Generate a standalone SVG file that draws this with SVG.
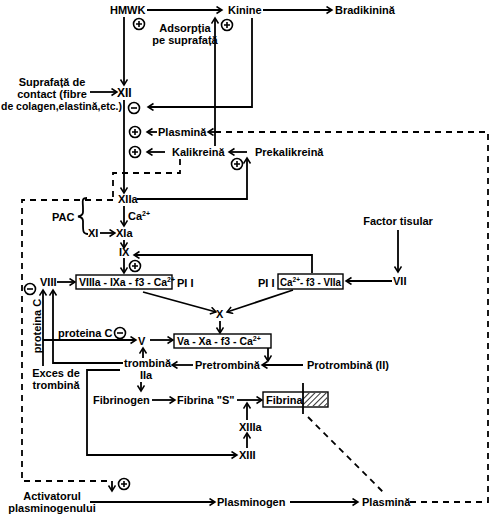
<svg xmlns="http://www.w3.org/2000/svg" width="495" height="522" viewBox="0 0 495 522">
<style>
.t{font-family:"Liberation Sans",Arial,sans-serif;font-size:11px;font-weight:bold;fill:#000}
.bx{font-size:10.5px}
.sup{font-size:7px}
.ln{fill:none;stroke:#000;stroke-width:1.8}
.ar{marker-end:url(#ah)}
.ds{stroke-dasharray:6 5}
.box{fill:#fff;stroke:#000;stroke-width:1.4}
.sym circle{fill:#fff;stroke:#000;stroke-width:1.6}
.sym path{fill:none;stroke:#000;stroke-width:1.6}
</style>
<defs>
<marker id="ah" markerUnits="userSpaceOnUse" markerWidth="10" markerHeight="10" refX="6" refY="4" orient="auto"><path d="M0.5,0.5 L6,4 L0.5,7.5" fill="none" stroke="#000" stroke-width="1.5"/></marker>
<pattern id="hatch" patternUnits="userSpaceOnUse" width="4" height="4" patternTransform="rotate(45)"><line x1="0" y1="0" x2="0" y2="4" stroke="#000" stroke-width="1.6"/></pattern>
<g id="plus" class="sym"><circle r="5.5"/><path d="M-3,0H3M0,-3V3"/></g>
<g id="minus" class="sym"><circle r="5.5"/><path d="M-3,0H3"/></g>
</defs>
<rect width="495" height="522" fill="#fff"/>

<g id="connectors">
<path class="ln ar" d="M147,10H222"/>
<path class="ln ar" d="M263,10H332"/>
<path class="ln ar" d="M124,17V85"/>
<path class="ln ar" d="M252,18V107H148"/>
<path class="ln ar" d="M90,92H117"/>
<path class="ln ar" d="M124,100V193"/>
<path class="ln ar" d="M215,146V18"/>
<path class="ln ar" d="M157,132H147"/>
<path class="ln ds" d="M410,502H488V132H214"/>
<path class="ln ar" d="M216,132H208"/>
<path class="ln ar" d="M165,152H147"/>
<path class="ln ar" d="M247,152H229"/>
<path class="ln ar" d="M137,199H247V158"/>
<path class="ln ds" d="M180,159V173H113V199"/>
<path class="ln ds" d="M113,200H22V481H112"/>
<path class="ln ar" d="M112,481V491"/>
<path class="ln" d="M87,198C81,198 83,202 83,208V212C83,215 81,216 78,216.5C81,217 83,218 83,221V225C83,231 83,234 88,234"/>
<path class="ln ar" d="M100,233H115"/>
<path class="ln ar" d="M124,206V226"/>
<path class="ln ar" d="M124,240V248"/>
<path class="ln ar" d="M312,273V255H134"/>
<path class="ln ar" d="M124,258V273"/>
<path class="ln ar" d="M57,282H75"/>
<path class="ln ar" d="M392,281H346"/>
<path class="ln ar" d="M398,230V272"/>
<path class="ln ar" d="M143,292L216,312"/>
<path class="ln ar" d="M293,290L227,312"/>
<path class="ln ar" d="M220,321V333"/>
<path class="ln ar" d="M150,340H173"/>
<path class="ln ar" d="M43,366V290"/>
<path class="ln ar" d="M43,340H136"/>
<path class="ln ar" d="M123,363H53V290"/>
<path class="ln ar" d="M143,358V348"/>
<path class="ln ar" d="M141,382V391"/>
<path class="ln ar" d="M120,370H87V455H237"/>
<path class="ln ar" d="M193,365H172"/>
<path class="ln ar" d="M303,365H262"/>
<path class="ln ar" d="M268,348V361"/>
<path class="ln ar" d="M152,400H175"/>
<path class="ln ar" d="M237,400H262"/>
<path class="ln ar" d="M247,420V403"/>
<path class="ln ar" d="M247,448V433"/>
<path class="ln ds" d="M308,417L385,494"/>
<path class="ln ar" d="M90,502H215"/>
<path class="ln ar" d="M290,502H358"/>
</g>

<g id="n-hmwk"><text class="t" x="110" y="14">HMWK</text></g>
<g id="n-kinine"><text class="t" x="228" y="14">Kinine</text></g>
<g id="n-bradikinina"><text class="t" x="335" y="14">Bradikinină</text></g>
<g id="n-adsorptia"><text class="t" x="185" y="32" text-anchor="middle">Adsorpția</text><text class="t" x="185" y="44" text-anchor="middle">pe suprafață</text></g>
<g id="n-suprafata"><text class="t" x="52" y="86" text-anchor="middle">Suprafață de</text><text class="t" x="52" y="98" text-anchor="middle">contact (fibre</text><text class="t" x="1" y="110" textLength="121" lengthAdjust="spacingAndGlyphs">de colagen,elastină,etc.)</text></g>
<g id="n-xii"><text class="t" x="117" y="97" style="font-size:12px">XII</text></g>
<g id="n-plasmina1"><text class="t" x="158" y="136">Plasmină</text></g>
<g id="n-kalikreina"><text class="t" x="172" y="156">Kalikreină</text></g>
<g id="n-prekalikreina"><text class="t" x="255" y="156">Prekalikreină</text></g>
<g id="n-xiia"><text class="t" x="118" y="203">XIIa</text></g>
<g id="n-pac"><text class="t" x="52" y="221">PAC</text></g>
<g id="n-ca"><text class="t" x="128" y="220">Ca<tspan class="sup" dy="-4">2+</tspan></text></g>
<g id="n-xi"><text class="t" x="88" y="237">XI</text></g>
<g id="n-xia"><text class="t" x="116" y="237">XIa</text></g>
<g id="n-factor"><text class="t" x="398" y="225" text-anchor="middle">Factor tisular</text></g>
<g id="n-ix"><text class="t" x="119" y="256">IX</text></g>
<g id="n-viii"><text class="t" x="40" y="286">VIII</text></g>
<g id="n-tenaza"><rect class="box" x="76" y="275" width="96" height="14"/><text class="t bx" x="79" y="286">VIIIa - IXa - f3 - Ca<tspan class="sup" dy="-4">2+</tspan></text><text class="t" x="177" y="287">PI I</text></g>
<g id="n-vii-complex"><text class="t" x="258" y="287">PI I</text><rect class="box" x="278" y="274" width="65" height="15"/><text class="t bx" x="280" y="286" textLength="61" lengthAdjust="spacingAndGlyphs">Ca<tspan class="sup" dy="-4">2+</tspan><tspan dy="4">- f3 - VIIa</tspan></text></g>
<g id="n-vii"><text class="t" x="393" y="285">VII</text></g>
<g id="n-x"><text class="t" x="216" y="318">X</text></g>
<g id="n-protC-v"><text class="t" transform="translate(41,326) rotate(-90)" text-anchor="middle">proteina C</text></g>
<g id="n-protC-h"><text class="t" x="58" y="337">proteina C</text></g>
<g id="n-v"><text class="t" x="138" y="345">V</text></g>
<g id="n-protrombinaza"><rect class="box" x="174" y="334" width="97" height="14"/><text class="t bx" x="177" y="345">Va - Xa - f3 - Ca<tspan class="sup" dy="-4">2+</tspan></text></g>
<g id="n-trombina"><text class="t" x="124" y="367">trombină</text><text class="t" x="140" y="379">IIa</text></g>
<g id="n-pretrombina"><text class="t" x="195" y="369">Pretrombină</text></g>
<g id="n-protrombina"><text class="t" x="307" y="369">Protrombină (II)</text></g>
<g id="n-exces"><text class="t" x="56" y="377" text-anchor="middle">Exces de</text><text class="t" x="56" y="389" text-anchor="middle">trombină</text></g>
<g id="n-fibrinogen"><text class="t" x="93" y="404">Fibrinogen</text></g>
<g id="n-fibrinaS"><text class="t" x="177" y="404">Fibrina "S"</text></g>
<g id="n-fibrina"><rect class="box" x="263" y="392" width="65" height="15"/><rect x="303" y="393" width="24" height="13" fill="url(#hatch)"/><text class="t" x="266" y="404">Fibrina</text><path class="ln" d="M303,383V414"/></g>
<g id="n-xiiia"><text class="t" x="239" y="431">XIIIa</text></g>
<g id="n-xiii"><text class="t" x="239" y="459">XIII</text></g>
<g id="n-activator"><text class="t" x="52" y="500" text-anchor="middle">Activatorul</text><text class="t" x="52" y="512" text-anchor="middle">plasminogenului</text></g>
<g id="n-plasminogen"><text class="t" x="217" y="506">Plasminogen</text></g>
<g id="n-plasmina2"><text class="t" x="362" y="506">Plasmină</text></g>

<g id="signs">
<use href="#plus" x="139" y="24"/>
<use href="#plus" x="227" y="25"/>
<use href="#minus" x="134" y="108"/>
<use href="#plus" x="135" y="132"/>
<use href="#plus" x="135" y="152"/>
<use href="#plus" x="237" y="164"/>
<use href="#plus" x="135" y="266"/>
<use href="#minus" x="30" y="289"/>
<use href="#minus" x="120" y="333"/>
<use href="#plus" x="124" y="484"/>
</g>
</svg>
